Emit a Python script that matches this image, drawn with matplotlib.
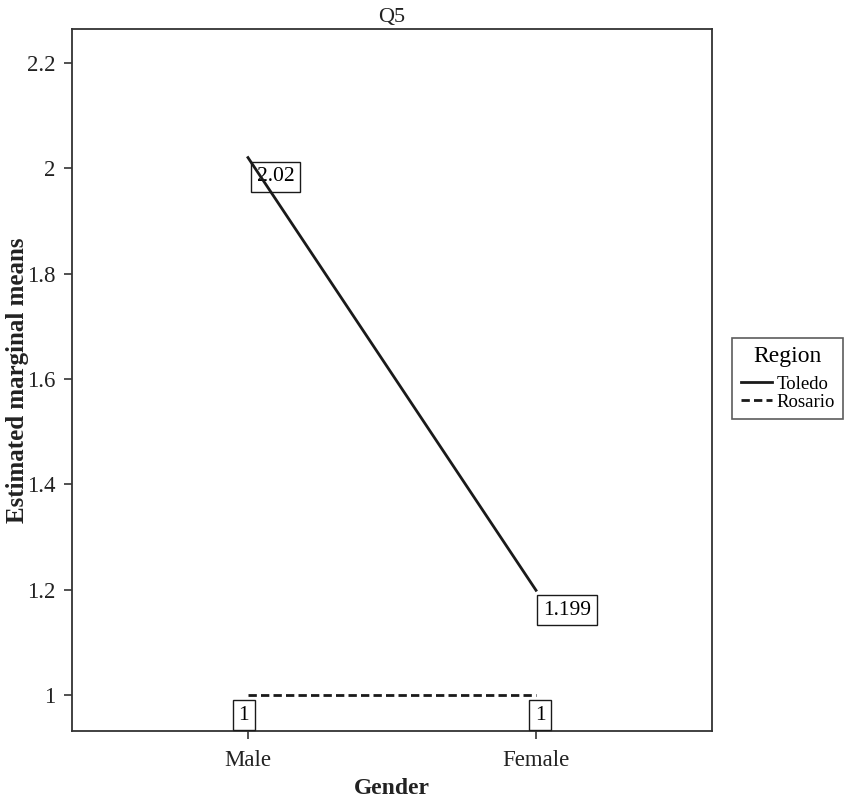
import matplotlib
matplotlib.use("Agg")
import matplotlib.pyplot as plt

plt.rcParams['font.family'] = ['Liberation Serif', 'DejaVu Serif']

genders = ["Male", "Female"]
regions = ["Toledo", "Rosario"]
toledo = [2.02, 1.199]
rosario = [1.0, 1.0]
toledo_labels = ["2.02", "1.199"]
rosario_labels = ["1", "1"]

fig = plt.figure(figsize=(8.48, 7.98), dpi=100)
ax = fig.add_axes([72 / 848, 1 - 731 / 798, 640 / 848, 702 / 798])

x = list(range(len(genders)))
ln1, = ax.plot(x, toledo, color="#1a1a1a", lw=2.0, ls="-")
ln2, = ax.plot(x, rosario, color="#1a1a1a", lw=2.0, ls=(0, (3, 1.5)))

box = dict(boxstyle="square,pad=0.26", fc="white", ec="#1a1a1a", lw=1.0)
# value labels placed next to each point, SPSS style
ax.annotate(toledo_labels[0], (x[0], toledo[0]), xytext=(6.5, -7), textcoords="offset points",
            ha="left", va="top", fontsize=15.5, bbox=box, zorder=1)
ax.annotate(toledo_labels[1], (x[1], toledo[1]), xytext=(5, -7.5), textcoords="offset points",
            ha="left", va="top", fontsize=15.5, bbox=box)
ax.annotate(rosario_labels[0], (x[0], rosario[0]), xytext=(-3, -7.5), textcoords="offset points",
            ha="center", va="top", fontsize=15.5, bbox=box)
ax.annotate(rosario_labels[1], (x[1], rosario[1]), xytext=(3, -7.5), textcoords="offset points",
            ha="center", va="top", fontsize=15.5, bbox=box)

ax.set_xlim(-0.611, 1.611)
ax.set_ylim(0.932, 2.264)
ax.set_xticks(x)
ax.set_xticklabels(genders)
ax.set_yticks([1, 1.2, 1.4, 1.6, 1.8, 2, 2.2])
ax.set_yticklabels(["1", "1.2", "1.4", "1.6", "1.8", "2", "2.2"])
ax.tick_params(labelsize=16.5, length=6, width=1.2, color="#333333", labelcolor="#222222")
ax.tick_params(axis="y", pad=6)
ax.tick_params(axis="x", pad=8)
for s in ax.spines.values():
    s.set_color("#333333")
    s.set_linewidth(1.3)

ax.set_title("Q5", fontsize=16, color="#222222", pad=5)
ax.set_xlabel("Gender", fontsize=17, fontweight="bold", color="#222222", labelpad=5)
ax.set_ylabel("Estimated marginal means", fontsize=18, fontweight="bold", color="#222222")
ax.yaxis.set_label_coords(-43 / 640, 0.5)

leg = fig.legend([ln1, ln2], regions, title="Region", loc="upper right",
                 bbox_to_anchor=(843 / 848, 1 - 338 / 798), fontsize=13.5, title_fontsize=17,
                 frameon=True, fancybox=False, edgecolor="#333333", handlelength=1.7,
                 handletextpad=0.2, borderpad=0.45, labelspacing=0.05, borderaxespad=0)
leg.get_frame().set_linewidth(1.2)
leg._legend_box.sep = 6  # a bit more room under the title

fig.savefig("out.png", dpi=100)
